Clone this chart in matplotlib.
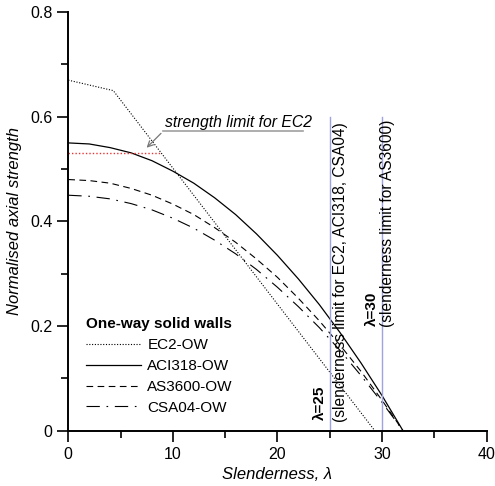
import matplotlib.pyplot as plt

plt.rcParams['font.family'] = ['Liberation Sans', 'DejaVu Sans']

slend = [0, 2, 4, 6, 8, 10, 12, 14, 16, 18, 20, 22, 24, 26, 28, 30, 32]

# Normalised axial strength for each code (one-way walls)
aci318 = [0.550, 0.548, 0.541, 0.531, 0.516, 0.496, 0.473, 0.445, 0.413,
          0.376, 0.335, 0.290, 0.241, 0.187, 0.129, 0.067, 0.0]
as3600 = [0.480, 0.478, 0.473, 0.463, 0.450, 0.433, 0.413, 0.388, 0.360,
          0.328, 0.293, 0.253, 0.210, 0.163, 0.113, 0.058, 0.0]
csa04 = [0.450, 0.448, 0.443, 0.434, 0.422, 0.406, 0.387, 0.364, 0.338,
         0.308, 0.274, 0.237, 0.197, 0.153, 0.105, 0.054, 0.0]

# EC2 is piecewise linear
ec2_x = [0, 4.3, 29.3]
ec2_y = [0.67, 0.65, 0.0]

# strength limit for EC2
ec2_limit = 0.53
ec2_limit_end = 8.8

# slenderness limits
limits = [25, 30]
limit_top = 0.6

fig = plt.figure(figsize=(4.95, 4.86), dpi=100)
ax = fig.add_axes([0.138, 0.114, 0.845, 0.861])

ax.plot(ec2_x, ec2_y, color='black', lw=0.8, linestyle=(0, (1, 1.5)), label='EC2-OW')
ax.plot(slend, aci318, color='black', lw=0.9, label='ACI318-OW')
ax.plot(slend, as3600, color='black', lw=0.8, linestyle=(0, (6, 4)), label='AS3600-OW')
ax.plot(slend, csa04, color='black', lw=0.8, linestyle=(0, (12, 6, 1.5, 6)), label='CSA04-OW')

ax.plot([0, ec2_limit_end], [ec2_limit, ec2_limit], color='#ee3333', lw=1.0,
        linestyle=(0, (1, 1.5)))

for lim in limits:
    ax.plot([lim, lim], [0, limit_top], color='#9fa3e0', lw=1.0)

# annotation for EC2 strength limit
ax.plot([9.05, 22.4], [0.572, 0.572], color='#a0a0a0', lw=1.2)
ax.annotate('', xy=(7.3, 0.537), xytext=(9.05, 0.572),
            arrowprops=dict(arrowstyle='->', color='#777777', lw=0.9))
ax.text(9.25, 0.580, 'strength limit for EC2', fontsize=11.3, style='italic')

# slenderness limit labels
ax.text(24.1, 0.02, 'λ=25', rotation=90, fontsize=11, fontweight='bold',
        ha='center', va='bottom')
ax.text(26.0, 0.017, '(slenderness limit for EC2, ACI318, CSA04)', rotation=90,
        fontsize=11.2, ha='center', va='bottom')
ax.text(29.0, 0.2, 'λ=30', rotation=90, fontsize=11, fontweight='bold',
        ha='center', va='bottom')
ax.text(30.55, 0.199, '(slenderness limit for AS3600)', rotation=90,
        fontsize=11.2, ha='center', va='bottom')

ax.set_xlim(0, 40)
ax.set_ylim(0, 0.8)
ax.set_xticks([0, 10, 20, 30, 40])
ax.set_xticks([5, 15, 25, 35], minor=True)
ax.set_yticks([0, 0.2, 0.4, 0.6, 0.8])
ax.set_yticklabels(['0', '0.2', '0.4', '0.6', '0.8'])
ax.set_yticks([0.1, 0.3, 0.5, 0.7], minor=True)
ax.tick_params(which='major', direction='out', length=8, width=1.2, labelsize=11.5)
ax.tick_params(which='minor', direction='out', length=5, width=1.2)

for side in ['top', 'right']:
    ax.spines[side].set_visible(False)
for side in ['left', 'bottom']:
    ax.spines[side].set_linewidth(1.4)

ax.set_xlabel('Slenderness, λ', fontsize=12, style='italic', labelpad=4)
ax.set_ylabel('Normalised axial strength', fontsize=12, style='italic', labelpad=6)

leg = ax.legend(loc='lower left', bbox_to_anchor=(0.01, 0.005), frameon=False,
                title='One-way solid walls', fontsize=11,
                title_fontproperties={'weight': 'bold', 'size': 11},
                handlelength=3.6, handletextpad=0.4, labelspacing=0.45)
leg._legend_box.align = 'left'

fig.savefig('out.png', dpi=100)
